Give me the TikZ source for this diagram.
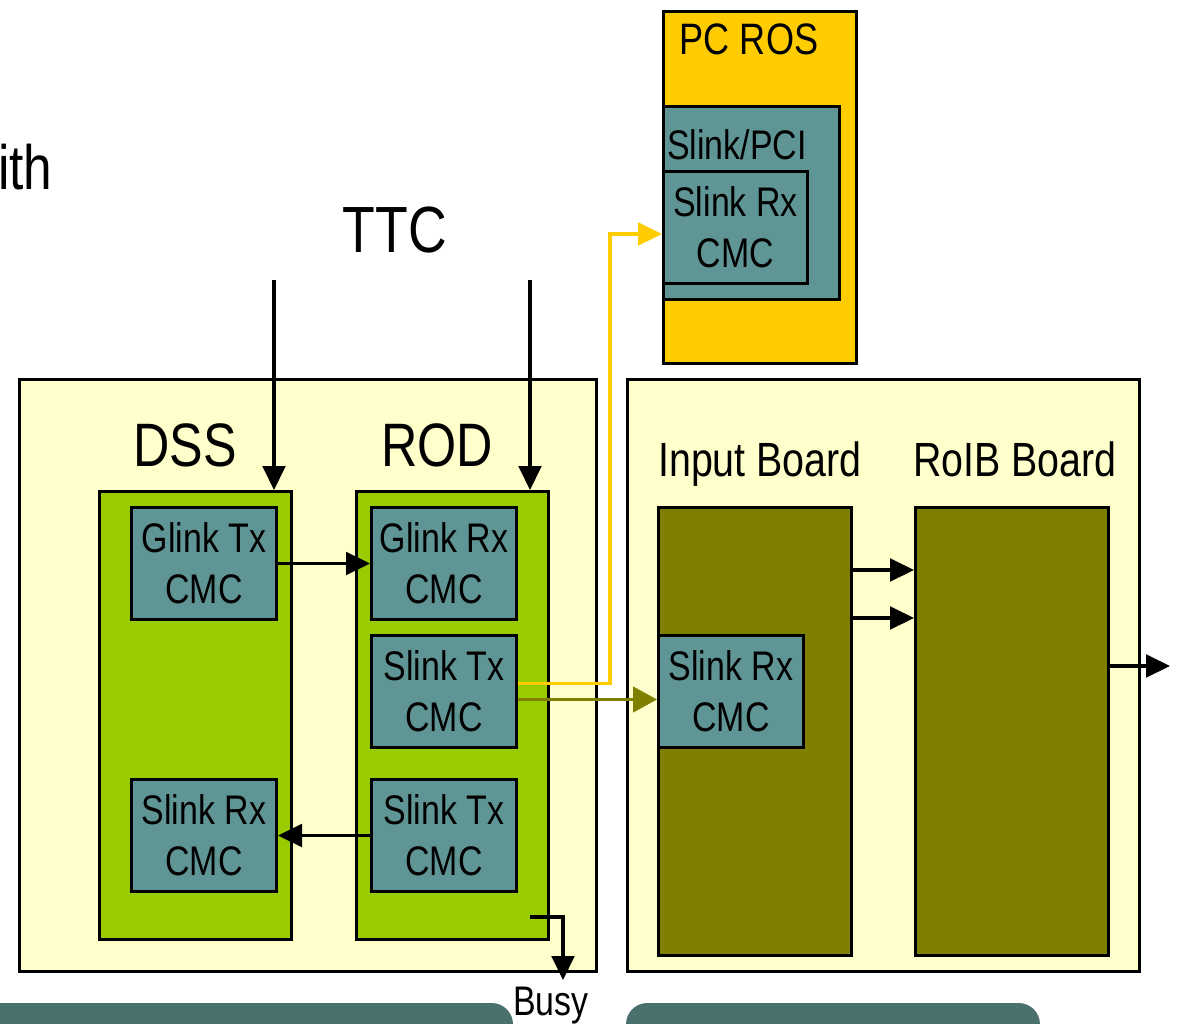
\documentclass[tikz,border=0pt]{standalone}
\usepackage{fontspec}
\setmainfont[FakeStretch=0.82]{Liberation Sans}
\usetikzlibrary{arrows.meta}
\definecolor{lyel}{HTML}{FFFFCC}
\definecolor{lgreen}{HTML}{99CC00}
\definecolor{tealbox}{HTML}{5F9594}
\definecolor{olivebox}{HTML}{808000}
\definecolor{rosbox}{HTML}{FFCC00}
\definecolor{barcol}{HTML}{4A716E}
\tikzset{
 box/.style={draw=black, line width=2.25pt, inner sep=0pt, anchor=north west},
 sz/.style 2 args={minimum width=#1*0.75pt, minimum height=#2*0.75pt},
 panel/.style={box, fill=lyel},
 crate/.style={box, fill=lgreen},
 cmc/.style={box, fill=tealbox, align=center, font=\fontsize{31}{38}\selectfont, sz={145}{112}},
 board/.style={box, fill=olivebox},
 sig/.style={line width=2.6pt, -{Triangle[length=18pt,width=17pt]}},
 lbl/.style={inner sep=0pt, anchor=base},
}
\begin{document}
\begin{tikzpicture}[x=0.75pt,y=-0.75pt]
\useasboundingbox (0,0) rectangle (1179,1024);
% bottom bars
\fill[barcol, rounded corners=16pt] (-40,1003) rectangle (513,1080);
\fill[barcol, rounded corners=16pt] (626,1003) rectangle (1040,1080);
% top texts
\node[lbl, anchor=base west] (with) at (-2,190) {\fontsize{47}{56}\selectfont ith};
\node[lbl] (ttc) at (395,252) {\fontsize{49}{58}\selectfont TTC};
% PC ROS
\node[box, fill=rosbox, sz={193}{352}] (ros) at (662,10) {};
\node[lbl] (roslbl) at (749,55) {\fontsize{33}{40}\selectfont PC ROS};
\node[box, fill=tealbox, sz={176}{193}] (pci) at (662,105) {};
\node[lbl] (pcilbl) at (737,160) {\fontsize{31}{38}\selectfont Slink/PCI};
\node[cmc, sz={144}{112}] (rosrx) at (662,170) {Slink Rx\\CMC};
% panels
\node[panel, sz={577}{592}] (lpanel) at (18,378) {};
\node[panel, sz={512}{592}] (rpanel) at (626,378) {};
\node[lbl] (dsslbl) at (185,466) {\fontsize{46}{54}\selectfont DSS};
\node[lbl] (rodlbl) at (437,466) {\fontsize{46}{54}\selectfont ROD};
\node[lbl] (inlbl) at (760,476) {\fontsize{36}{44}\selectfont Input Board};
\node[lbl] (roiblbl) at (1015,476) {\fontsize{36}{44}\selectfont RoIB Board};
% crates
\node[crate, sz={192}{448}] (dss) at (98,490) {};
\node[crate, sz={192}{448}] (rod) at (355,490) {};
\node[cmc] (gtx) at (130,506) {Glink Tx\\CMC};
\node[cmc] (grx) at (370,506) {Glink Rx\\CMC};
\node[cmc] (stxa) at (370,634) {Slink Tx\\CMC};
\node[cmc] (srx) at (130,778) {Slink Rx\\CMC};
\node[cmc] (stxb) at (370,778) {Slink Tx\\CMC};
% boards
\node[board, sz={193}{448}] (inb) at (657,506) {};
\node[board, sz={193}{448}] (roib) at (914,506) {};
\node[cmc] (irx) at (657,634) {Slink Rx\\CMC};
% connectors
\coordinate (ttca) at (274,280);
\coordinate (ttcb) at (530,280);
\draw[sig] (ttca) -- (ttca |- dss.north);
\draw[sig] (ttcb) -- (ttcb |- rod.north);
\draw[sig] (gtx.east) -- (gtx.east -| grx.west);
\draw[sig] (stxb.west) -- (stxb.west -| srx.east);
\coordinate (ybend) at (610,234);
\draw[line width=2.6pt, rosbox, -{Triangle[length=18pt,width=17pt]}]
  ([yshift=6pt]stxa.east) -| (ybend) -- (ybend -| rosrx.west);
\draw[line width=2.6pt, olivebox, -{Triangle[length=18pt,width=19pt]}]
  ([yshift=-6pt]stxa.east) -- ([yshift=-6pt]stxa.east -| irx.west);
\coordinate (ia) at (850,570);
\coordinate (ib) at (850,618);
\draw[sig] (ia) -- (ia -| roib.west);
\draw[sig] (ib) -- (ib -| roib.west);
\coordinate (rout) at (1170,666);
\draw[sig] (roib.east |- rout) -- (rout);
\coordinate (busys) at (530,917);
\coordinate (busye) at (563,980);
\draw[sig] (busys) -| (busye);
\node[lbl] (busy) at (551,1015) {\fontsize{31}{37}\selectfont Busy};
\end{tikzpicture}
\end{document}
